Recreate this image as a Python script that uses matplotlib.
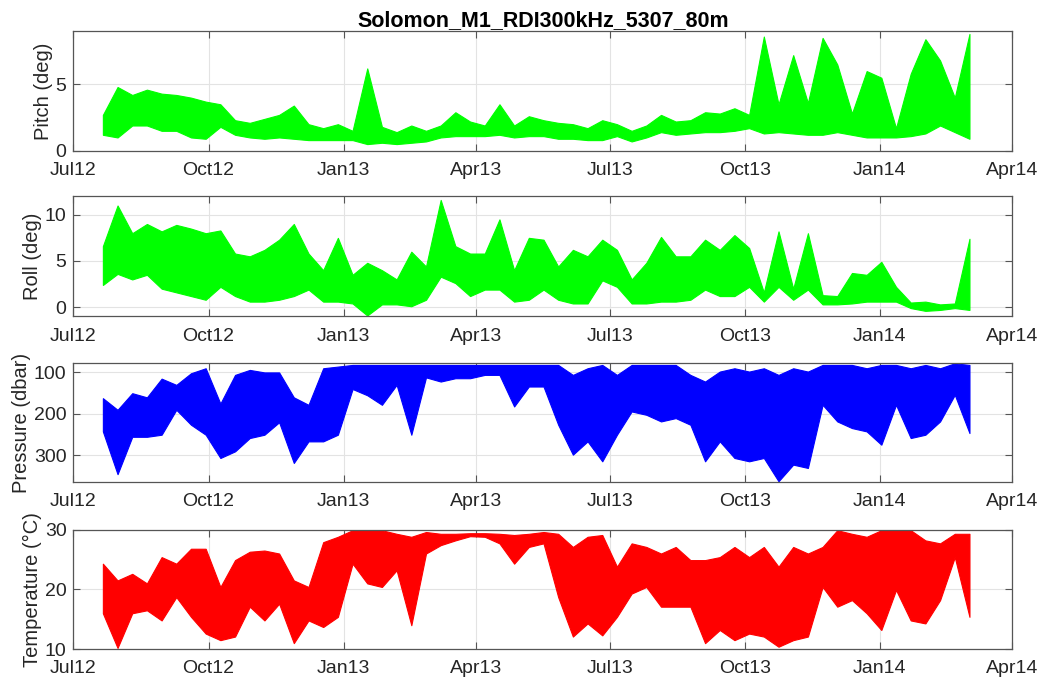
import pandas as pd
import matplotlib.pyplot as plt
import matplotlib.dates as mdates

plt.rcParams['font.family'] = ['Liberation Sans', 'DejaVu Sans']

title = 'Solomon_M1_RDI300kHz_5307_80m'

# 10-day bins: min / max of each instrument record in the bin
dates = pd.date_range('2012-07-21', periods=60, freq='10D')

pitch_hi = [2.7, 4.8, 4.2, 4.6, 4.3, 4.2, 4.0, 3.7, 3.5, 2.3,
            2.1, 2.4, 2.7, 3.4, 2.0, 1.7, 2.0, 1.5, 6.2, 1.8,
            1.4, 1.9, 1.5, 1.9, 2.9, 2.2, 1.9, 3.5, 1.9, 2.6,
            2.3, 2.1, 2.0, 1.7, 2.3, 2.0, 1.5, 1.9, 2.7, 2.2,
            2.3, 2.9, 2.8, 3.2, 2.7, 8.6, 3.5, 7.2, 3.6, 8.5,
            6.5, 2.8, 6.0, 5.5, 1.7, 5.8, 8.4, 6.8, 4.0, 8.8]
pitch_lo = [1.2, 1.0, 1.9, 1.9, 1.5, 1.5, 1.0, 0.9, 1.8, 1.2,
            1.0, 0.9, 1.0, 0.9, 0.8, 0.8, 0.8, 0.8, 0.5, 0.6,
            0.5, 0.6, 0.7, 1.0, 1.1, 1.1, 1.1, 1.2, 1.0, 1.1,
            1.1, 0.9, 0.9, 0.8, 0.8, 1.1, 0.7, 1.0, 1.4, 1.2,
            1.3, 1.4, 1.4, 1.5, 1.7, 1.3, 1.4, 1.3, 1.2, 1.2,
            1.4, 1.2, 1.0, 1.0, 1.0, 1.1, 1.3, 1.9, 1.4, 0.9]

roll_hi = [6.6, 11.0, 8.0, 9.0, 8.2, 8.9, 8.5, 8.0, 8.3, 5.8,
           5.5, 6.2, 7.3, 9.0, 5.8, 4.0, 7.5, 3.5, 4.8, 4.0,
           3.0, 6.0, 4.4, 11.6, 6.6, 5.8, 5.8, 9.5, 4.0, 7.5,
           7.3, 4.4, 6.2, 5.5, 7.3, 6.2, 3.0, 4.8, 7.6, 5.5,
           5.5, 7.3, 6.2, 7.8, 6.4, 1.6, 8.2, 2.0, 8.0, 1.3,
           1.2, 3.7, 3.5, 4.9, 2.2, 0.5, 0.6, 0.3, 0.4, 7.4]
roll_lo = [2.4, 3.6, 3.0, 3.5, 2.0, 1.6, 1.2, 0.8, 2.2, 1.2,
           0.6, 0.6, 0.8, 1.2, 1.9, 0.6, 0.6, 0.4, -0.9, 0.3,
           0.3, 0.1, 0.8, 3.3, 2.6, 1.2, 1.9, 1.9, 0.6, 0.8,
           1.9, 0.8, 0.4, 0.4, 2.9, 2.2, 0.4, 0.4, 0.6, 0.6,
           0.8, 1.9, 1.2, 1.2, 2.2, 0.6, 2.2, 0.8, 1.9, 0.3,
           0.3, 0.4, 0.6, 0.6, 0.6, -0.1, -0.4, -0.3, -0.1, -0.3]

pres_min = [162, 190, 150, 160, 115, 130, 102, 90, 175, 106,
            94, 100, 100, 160, 178, 90, 86, 82, 82, 82,
            82, 82, 82, 82, 82, 82, 82, 82, 82, 82,
            82, 82, 106, 90, 82, 106, 82, 82, 82, 82,
            106, 122, 98, 90, 98, 90, 106, 90, 98, 82,
            82, 82, 90, 82, 82, 90, 82, 90, 78, 82]
pres_max = [242, 345, 255, 255, 250, 190, 226, 250, 306, 290,
            258, 250, 220, 318, 266, 266, 250, 140, 155, 178,
            130, 250, 112, 122, 114, 114, 106, 106, 182, 134,
            134, 226, 298, 266, 314, 250, 194, 202, 218, 210,
            226, 314, 266, 306, 314, 306, 362, 322, 330, 178,
            218, 234, 242, 274, 178, 258, 250, 218, 154, 246]

temp_hi = [24.3, 21.5, 22.6, 21.0, 25.4, 24.3, 26.8, 26.8, 20.4, 24.9,
           26.3, 26.5, 26.0, 21.5, 20.4, 27.9, 28.8, 29.9, 29.9, 29.9,
           29.3, 28.8, 29.6, 29.3, 29.3, 29.4, 29.4, 29.3, 29.1, 29.3,
           29.6, 29.3, 27.1, 28.8, 29.1, 23.8, 27.7, 27.1, 26.0, 27.1,
           24.9, 24.9, 25.4, 27.1, 25.4, 27.1, 23.8, 27.1, 26.0, 27.1,
           29.9, 29.3, 28.8, 29.9, 29.9, 29.9, 28.2, 27.7, 29.3, 29.3]
temp_lo = [16.0, 10.2, 16.0, 16.5, 14.8, 18.7, 15.4, 12.6, 11.5, 12.1,
           17.1, 14.8, 17.6, 11.0, 14.8, 13.7, 15.4, 24.3, 21.0, 20.4,
           23.2, 14.0, 26.0, 27.4, 28.2, 28.9, 28.8, 27.7, 24.3, 27.1,
           27.7, 18.7, 12.1, 14.3, 12.3, 15.4, 19.3, 20.4, 17.1, 17.1,
           17.1, 11.0, 13.2, 11.5, 12.6, 12.1, 10.4, 11.5, 12.1, 20.4,
           17.1, 18.2, 16.0, 13.2, 19.9, 14.8, 14.3, 18.2, 25.4, 15.4]

panels = [
    ('Pitch (deg)', pitch_lo, pitch_hi, '#00ff00', (0, 9), [0, 5]),
    ('Roll (deg)', roll_lo, roll_hi, '#00ff00', (-1, 12), [0, 5, 10]),
    ('Pressure (dbar)', pres_min, pres_max, '#0000ff', (364, 78), [100, 200, 300]),
    ('Temperature (\u00b0C)', temp_lo, temp_hi, '#ff0000', (10, 30), [10, 20, 30]),
]

# axes boxes in figure fractions (left, bottom, width, height)
boxes = [
    (0.0706, 0.778, 0.9016, 0.176),
    (0.0706, 0.534, 0.9016, 0.177),
    (0.0706, 0.290, 0.9016, 0.175),
    (0.0706, 0.044, 0.9016, 0.176),
]

fig = plt.figure(figsize=(10.41, 6.79), dpi=100)
txt = '#262626'

for (label, lo, hi, col, ylim, yticks), box in zip(panels, boxes):
    ax = fig.add_axes(box)
    ax.fill_between(dates, lo, hi, color=col, lw=0.8, edgecolor=col)
    ax.set_xlim(pd.Timestamp('2012-07-01'), pd.Timestamp('2014-04-01'))
    ax.set_ylim(*ylim)
    ax.set_yticks(yticks)
    ax.xaxis.set_major_locator(mdates.MonthLocator(bymonth=[1, 4, 7, 10]))
    ax.xaxis.set_major_formatter(mdates.DateFormatter('%b%y'))
    ax.grid(True, color='#e3e3e3', lw=0.8)
    ax.set_axisbelow(True)
    ax.tick_params(direction='in', length=5, width=0.8, colors='#555555',
                   labelcolor=txt, labelsize=14, top=True, right=True)
    ax.tick_params(axis='x', pad=8)
    ax.tick_params(axis='y', pad=5)
    for s in ax.spines.values():
        s.set_color('#555555')
        s.set_linewidth(0.9)
    ax.set_ylabel(label, fontsize=14.5, color=txt, labelpad=2)
    if box is boxes[0]:
        ax.set_title(title, fontsize=15.5, fontweight='bold', color='black', pad=4)

fig.savefig('out.png', dpi=100)
